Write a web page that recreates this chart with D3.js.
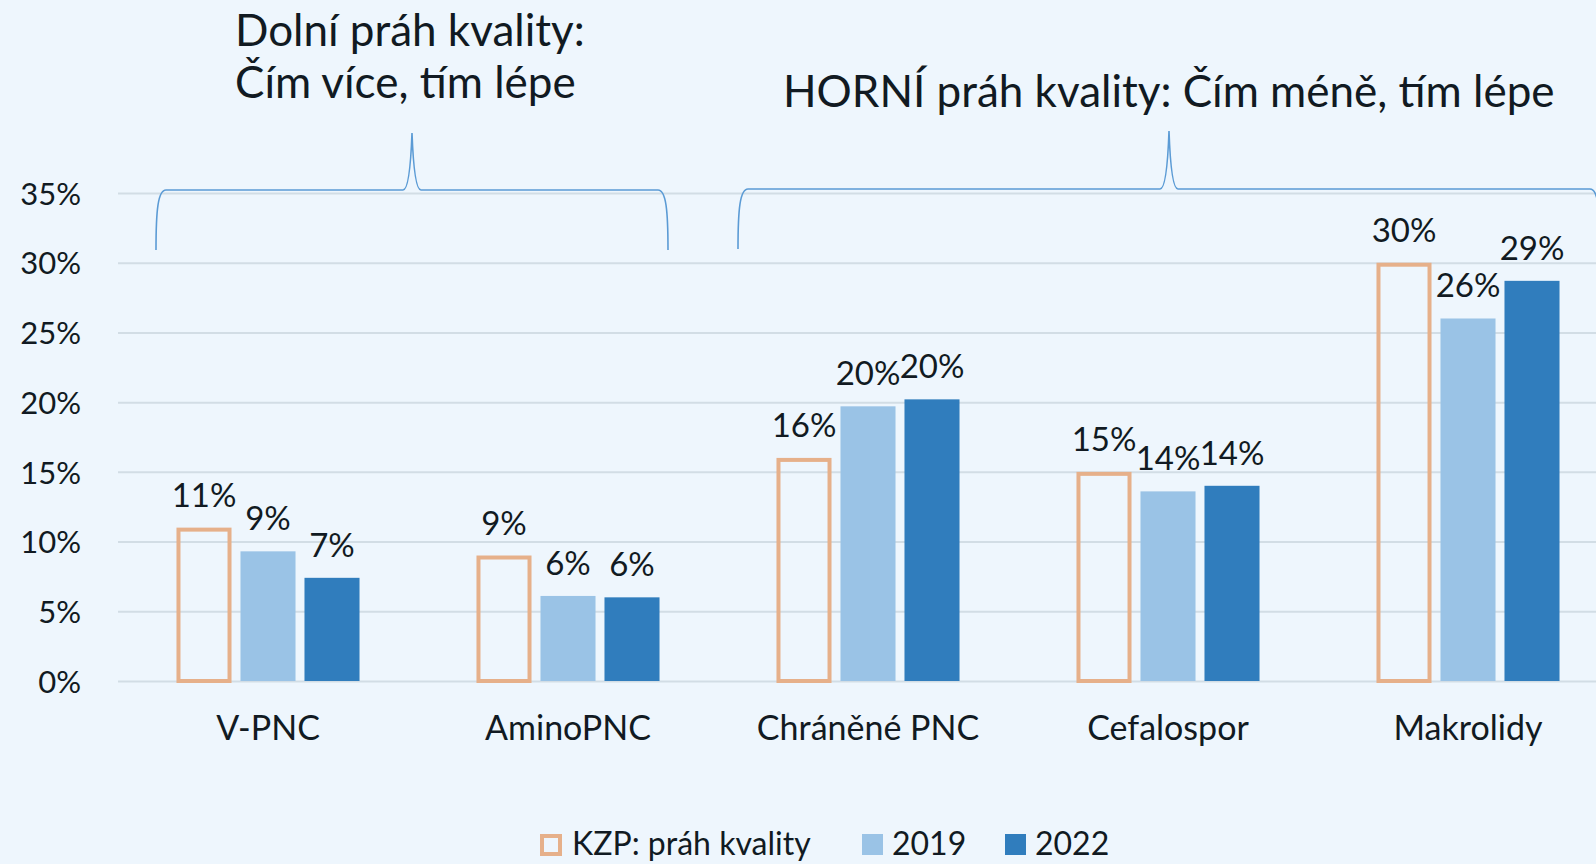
<!DOCTYPE html>
<html>
<head>
<meta charset="utf-8">
<script src="https://cdn.jsdelivr.net/npm/d3@7"></script>
<style>
  body { margin: 0; background: #eef6fd; }
  svg { display: block; font-family: Lato, "Open Sans", sans-serif; }
</style>
</head>
<body>
<svg width="1596" height="864"></svg>
<script>
var categories = ["V-PNC", "AminoPNC", "Chráněné PNC", "Cefalospor", "Makrolidy"];
var seriesNames = ["KZP: práh kvality", "2019", "2022"];
var kzp = [0.11, 0.09, 0.16, 0.15, 0.30];
var y2019 = [0.093, 0.061, 0.197, 0.136, 0.260];
var y2022 = [0.074, 0.060, 0.202, 0.140, 0.287];
var yTicks = [0, 0.05, 0.10, 0.15, 0.20, 0.25, 0.30, 0.35];

var colors = ["#e6b08a", "#9ac3e6", "#307dbd"];
var textColor = "#111a22";

var svg = d3.select("svg");
var width = +svg.attr("width"), height = +svg.attr("height");

svg.append("rect").attr("width", width).attr("height", height).attr("fill", "#eef6fd");

var x0 = d3.scaleBand().domain(categories).range([118, 1618]).paddingInner(0.36).paddingOuter(0.18);
var x1 = d3.scaleBand().domain(seriesNames).range([0, x0.bandwidth()]).paddingInner(0.14).paddingOuter(0.07);
var y = d3.scaleLinear().domain([0, 0.35]).range([681, 193]);

// grid
var yAxis = d3.axisLeft(y).tickValues(yTicks).tickFormat(d3.format(".0%")).tickSize(-(width - 118)).tickPadding(37);
var gy = svg.append("g").attr("transform", "translate(118,0)").call(yAxis);
gy.select(".domain").remove();
gy.selectAll(".tick line").attr("stroke", "#d2dde5").attr("stroke-width", 2);
gy.selectAll(".tick text").attr("fill", textColor).attr("font-size", 31).attr("font-family", "Lato, sans-serif").attr("dy", "0.36em");

// x labels
var xAxis = d3.axisBottom(x0).tickSize(0).tickPadding(35);
var gx = svg.append("g").attr("transform", "translate(0,681)").call(xAxis);
gx.select(".domain").remove();
gx.selectAll(".tick text").attr("fill", textColor).attr("font-size", 34).attr("font-family", "Lato, sans-serif");

var data = categories.map(function(c, i) {
    return {cat: c, vals: [kzp[i], y2019[i], y2022[i]]};
});

var groups = svg.append("g").selectAll("g").data(data).enter().append("g")
    .attr("transform", function(d) { return "translate(" + x0(d.cat) + ",0)"; });

groups.selectAll("rect").data(function(d) {
    return d.vals.map(function(v, j) { return {s: seriesNames[j], j: j, v: v}; });
}).enter().append("rect")
    .attr("x", function(d) { return x1(d.s) + (d.j === 0 ? 2 : 0); })
    .attr("width", function(d) { return x1.bandwidth() - (d.j === 0 ? 4 : 0); })
    .attr("y", function(d) { return y(d.v) + (d.j === 0 ? 2 : 0); })
    .attr("height", function(d) { return y(0) - y(d.v) - (d.j === 0 ? 2 : 0); })
    .attr("fill", function(d) { return d.j === 0 ? "none" : colors[d.j]; })
    .attr("stroke", function(d) { return d.j === 0 ? colors[0] : "none"; })
    .attr("stroke-width", 4);

groups.selectAll("text").data(function(d) {
    return d.vals.map(function(v, j) { return {s: seriesNames[j], j: j, v: v}; });
}).enter().append("text")
    .attr("x", function(d) { return x1(d.s) + x1.bandwidth() / 2; })
    .attr("y", function(d) { return y(d.v) - 21; })
    .attr("text-anchor", "middle")
    .attr("font-size", 33)
    .attr("fill", textColor)
    .text(function(d) { return d3.format(".0%")(d.v); });

// braces
function brace(xa, xb, yb, yh, ytip) {
    var xm = (xa + xb) / 2;
    return "M" + xa + "," + yb +
        " C" + xa + "," + (yh + 20) + " " + (xa + 2) + "," + yh + " " + (xa + 10) + "," + yh +
        " L" + (xm - 9) + "," + yh +
        " C" + (xm - 3) + "," + yh + " " + (xm - 1) + "," + (yh - 30) + " " + xm + "," + ytip +
        " C" + (xm + 1) + "," + (yh - 30) + " " + (xm + 3) + "," + yh + " " + (xm + 9) + "," + yh +
        " L" + (xb - 10) + "," + yh +
        " C" + (xb - 2) + "," + yh + " " + xb + "," + (yh + 20) + " " + xb + "," + yb;
}
svg.append("path").attr("d", brace(156, 668, 250, 190, 133))
    .attr("fill", "none").attr("stroke", "#5b9bd5").attr("stroke-width", 1.6);
svg.append("path").attr("d", brace(738, 1600, 249, 189, 131))
    .attr("fill", "none").attr("stroke", "#5b9bd5").attr("stroke-width", 1.6);

// headings
svg.append("text").attr("x", 235).attr("y", 46).attr("font-size", 44).attr("fill", textColor)
    .text("Dolní práh kvality:");
svg.append("text").attr("x", 235).attr("y", 98).attr("font-size", 44).attr("fill", textColor)
    .text("Čím více, tím lépe");
svg.append("text").attr("x", 783).attr("y", 107).attr("font-size", 44).attr("fill", textColor)
    .text("HORNÍ práh kvality: Čím méně, tím lépe");

// legend
var legendX = [540, 862, 1005];
var legend = svg.append("g").selectAll("g").data(seriesNames).enter().append("g")
    .attr("transform", function(d, i) { return "translate(" + legendX[i] + ",834)"; });
legend.append("rect")
    .attr("x", function(d, i) { return i === 0 ? 2 : 0; })
    .attr("y", function(d, i) { return i === 0 ? 2 : 0; })
    .attr("width", function(d, i) { return i === 0 ? 18 : 21; })
    .attr("height", function(d, i) { return i === 0 ? 18 : 21; })
    .attr("fill", function(d, i) { return i === 0 ? "none" : colors[i]; })
    .attr("stroke", function(d, i) { return i === 0 ? colors[0] : "none"; })
    .attr("stroke-width", 4);
legend.append("text").attr("x", function(d, i) { return i === 0 ? 32 : 30; }).attr("y", 21)
    .attr("font-size", 32).attr("fill", textColor).text(function(d) { return d; });
</script>
</body>
</html>
